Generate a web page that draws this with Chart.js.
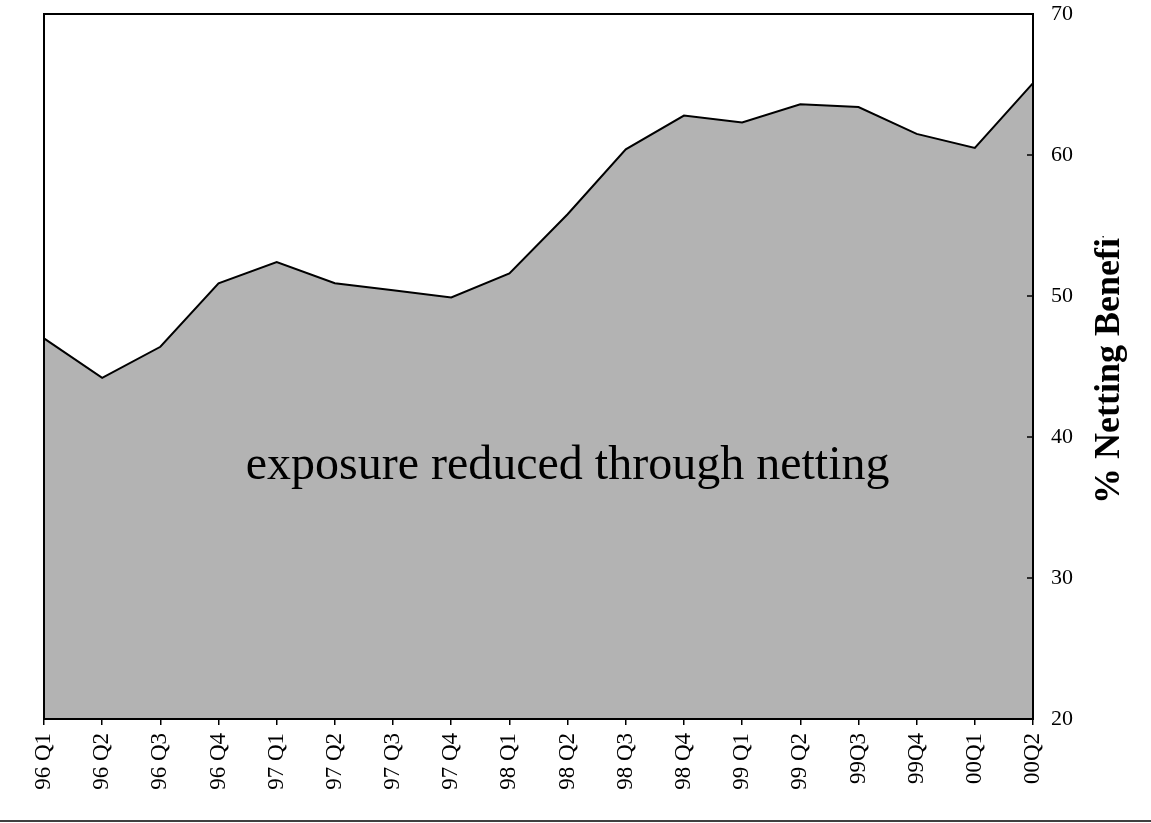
<!DOCTYPE html>
<html>
<head>
<meta charset="utf-8">
<script src="https://cdn.jsdelivr.net/npm/chart.js@4/dist/chart.umd.min.js"></script>
<style>
  html, body { margin:0; padding:0; background:#fff; }
  #wrap { width:1151px; height:823px; }
</style>
</head>
<body>
<div id="wrap"><canvas id="nettingChart"></canvas></div>
<script>
const quarters = ["96 Q1","96 Q2","96 Q3","96 Q4","97 Q1","97 Q2","97 Q3","97 Q4",
                  "98 Q1","98 Q2","98 Q3","98 Q4","99 Q1","99 Q2","99Q3","99Q4","00Q1","00Q2"];
const nettingBenefit = [47.0,44.2,46.4,50.9,52.4,50.9,50.4,49.9,
                        51.6,55.8,60.4,62.8,62.3,63.6,63.4,61.5,60.5,65.1];
const yTicks = [20,30,40,50,60,70];

const annotationText = "exposure reduced through netting";
const axisTitle = "% Netting Benefit";

const serif = "'Liberation Serif', 'Times New Roman', serif";

const framePlugin = {
    id:"frame",
    afterDatasetsDraw(chart){
        const ctx = chart.ctx;
        const a = chart.chartArea;
        const x = chart.scales.x;
        const y = chart.scales.y;

        // label inside the area
        ctx.save();
        ctx.fillStyle = "#000";
        ctx.font = "48px " + serif;
        ctx.textAlign = "center";
        ctx.textBaseline = "alphabetic";
        ctx.fillText(annotationText, x.getPixelForValue(9), y.getPixelForValue(37.0));
        ctx.restore();

        // box round the plot
        ctx.save();
        ctx.strokeStyle = "#000";
        ctx.lineWidth = 2;
        ctx.strokeRect(a.left, a.top, a.right - a.left, a.bottom - a.top);

        // inner ticks on the right axis
        ctx.lineWidth = 1.5;
        yTicks.forEach(v => {
            const py = y.getPixelForValue(v);
            ctx.beginPath();
            ctx.moveTo(a.right - 6, py);
            ctx.lineTo(a.right, py);
            ctx.stroke();
        });

        // rule along the bottom
        ctx.beginPath();
        ctx.moveTo(0, 821);
        ctx.lineTo(chart.width, 821);
        ctx.stroke();

        // axis title, cut off at the top like the original
        ctx.beginPath();
        ctx.rect(a.right, 236, chart.width - a.right, chart.height - 236);
        ctx.clip();
        ctx.translate(1119, 365);
        ctx.rotate(-Math.PI / 2);
        ctx.font = "bold 36px " + serif;
        ctx.textAlign = "center";
        ctx.textBaseline = "alphabetic";
        ctx.fillStyle = "#000";
        ctx.fillText(axisTitle, 0, 0);
        ctx.restore();
    }
};

new Chart(document.getElementById("nettingChart"), {
    type:"line",
    data:{
        labels:quarters,
        datasets:[{
            label:"% Netting Benefit",
            data:nettingBenefit,
            borderColor:"#000",
            borderWidth:2,
            backgroundColor:"#b3b3b3",
            fill:"start",
            pointRadius:0,
            tension:0
        }]
    },
    options:{
        responsive:true,
        maintainAspectRatio:false,
        animation:false,
        layout:{ padding:{ left:44, top:14, right:0, bottom:0 } },
        plugins:{ legend:{ display:false }, tooltip:{ enabled:false } },
        scales:{
            x:{
                offset:false,
                afterFit(scale){
                    scale.height = 823 - 719;
                    scale.paddingLeft = 0;
                    scale.paddingRight = 0;
                },
                grid:{ drawOnChartArea:false, drawTicks:true, tickLength:6, color:"#000", lineWidth:1.5 },
                border:{ display:false },
                ticks:{
                    color:"#000",
                    font:{ family:serif, size:23 },
                    minRotation:90,
                    maxRotation:90,
                    autoSkip:false,
                    padding:8
                }
            },
            y:{
                position:"right",
                min:20,
                max:70,
                afterFit(scale){
                    scale.width = 1151 - 1033;
                    scale.paddingTop = 0;
                    scale.paddingBottom = 0;
                },
                grid:{ display:false },
                border:{ display:false },
                ticks:{
                    stepSize:10,
                    color:"#000",
                    font:{ family:serif, size:22 },
                    padding:10
                }
            }
        }
    },
    plugins:[framePlugin]
});
</script>
</body>
</html>
